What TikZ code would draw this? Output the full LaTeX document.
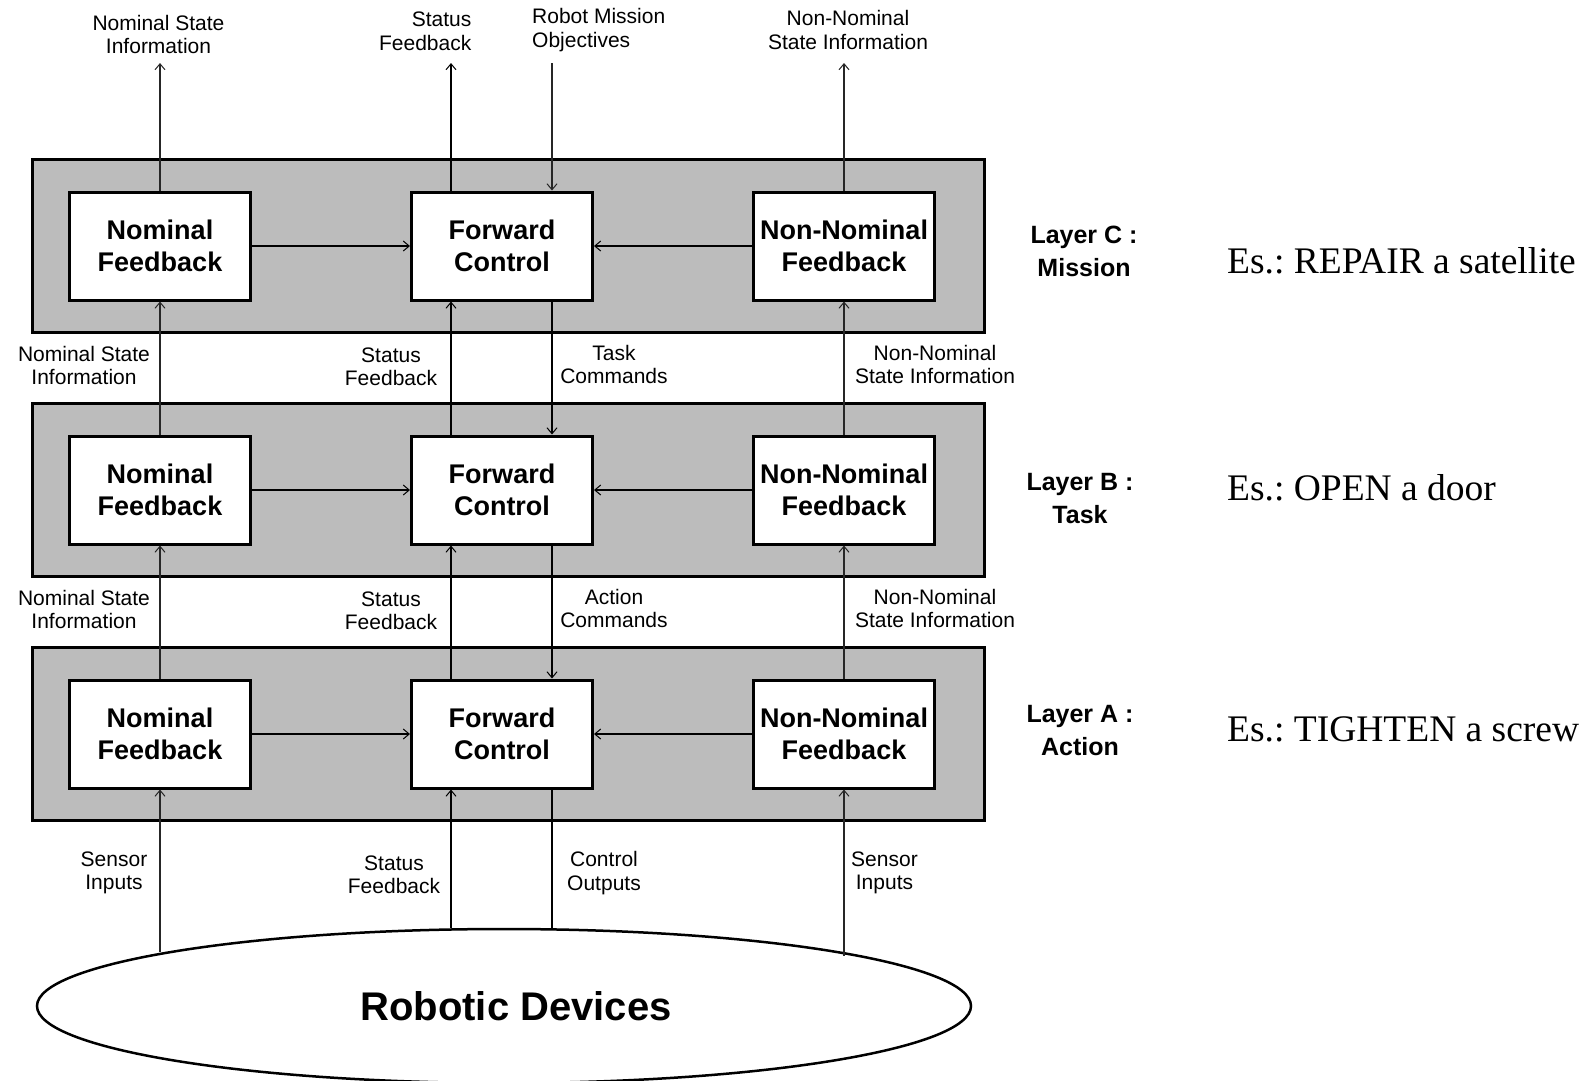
\documentclass[tikz,border=0pt]{standalone}
\usepackage{fontspec}
\setmainfont{Liberation Sans}
\newfontfamily\esfont{Liberation Serif}
\usetikzlibrary{arrows.meta,calc,shapes.geometric}
\definecolor{layergray}{RGB}{188,188,188}
\frenchspacing
\begin{document}
\begin{tikzpicture}[x=1pt,y=-1pt,
  layerbox/.style={draw=black,line width=3pt,fill=layergray,minimum width=952pt,minimum height=173pt,inner sep=0pt},
  blk/.style={draw=black,line width=3pt,fill=white,minimum width=181pt,minimum height=108pt,inner sep=0pt,align=center,font=\fontsize{27}{32.5}\selectfont\bfseries},
  sig/.style={font=\fontsize{21}{23.5}\selectfont,align=center,inner sep=0pt},
  laylbl/.style={font=\fontsize{25}{33}\selectfont\bfseries,align=center,inner sep=0pt},
  eslbl/.style={font=\esfont\fontsize{37.5}{40}\selectfont,anchor=west,inner sep=0pt},
  tip/.style={-{Straight Barb[length=6pt,width=10pt,line width=1pt]}},
  thinln/.style={line width=1.1pt,draw=black!85},
  statln/.style={line width=2.4pt},
  cmdln/.style={line width=1.3pt},
  horln/.style={line width=1.8pt},
]
\useasboundingbox (0,0) rectangle (1583,1080);

% layers and blocks
\foreach \n/\y in {C/246,B/490,A/734} {
  \node[layerbox] (L\n) at (508,\y) {};
  \node[blk] (n\n) at (160,\y) {Nominal\\Feedback};
  \node[blk] (f\n) at (502,\y) {Forward\\Control};
  \node[blk] (x\n) at (844,\y) {Non-Nominal\\Feedback};
  \draw[horln,tip] (n\n.east) -- (f\n.west);
  \draw[horln,tip] (x\n.west) -- (f\n.east);
}

% top outputs / inputs
\coordinate (tN) at (160,63);
\coordinate (tS) at (451,63);
\coordinate (tR) at (552,63);
\coordinate (tX) at (844,63);
\draw[thinln,tip] (nC.north) -- (tN);
\draw[statln,tip] ($(fC.north)+(-51,0)$) -- (tS);
\draw[thinln,tip] (tR) -- ($(fC.north)+(50,0)$);
\draw[thinln,tip] (xC.north) -- (tX);

\node[sig] (lNt) at (158.5,34.5) {Nominal State\\Information};
\node[sig,align=right,anchor=east] (lSt) at (471.5,31.5) {Status\\Feedback};
\node[sig,align=left,anchor=west] (lRt) at (532,30) {Robot Mission\\Objectives};
\node[sig] (lXt) at (848,30) {Non-Nominal\\State Information};

% between layers
\foreach \u/\l in {C/B,B/A} {
  \draw[thinln,tip] (n\l.north) -- (n\u.south);
  \draw[statln,tip] ($(f\l.north)+(-51,0)$) -- ($(f\u.south)+(-51,0)$);
  \draw[cmdln,tip] ($(f\u.south)+(50,0)$) -- ($(f\l.north)+(50,0)$);
  \draw[thinln,tip] (x\l.north) -- (x\u.south);
}
\node[sig] (lNcb) at (84,365.5) {Nominal State\\Information};
\node[sig] (lScb) at (391,367) {Status\\Feedback};
\node[sig] (lTcb) at (614,364.5) {Task\\Commands};
\node[sig] (lXcb) at (935,364.5) {Non-Nominal\\State Information};
\node[sig] (lNba) at (84,609.5) {Nominal State\\Information};
\node[sig] (lSba) at (391,611) {Status\\Feedback};
\node[sig] (lTba) at (614,608.5) {Action\\Commands};
\node[sig] (lXba) at (935,608.5) {Non-Nominal\\State Information};

% robotic devices
\node[ellipse,draw,line width=2.5pt,minimum width=934pt,minimum height=154pt,inner sep=0pt,
      font=\fontsize{40}{44}\selectfont\bfseries] (rd) at (504,1006) {\hspace*{24pt}Robotic Devices};
\draw[thinln,tip] (nA.south |- rd.171.4) -- (nA.south);
\draw[line width=2pt,tip] let \p1=($(fA.south)+(-51,0)$), \p2=(rd.124.7) in (\x1,\y2) -- (\p1);
\draw[line width=1.8pt] let \p1=($(fA.south)+(50,0)$), \p2=(rd.57.9) in (\p1) -- (\x1,\y2);
\draw[thinln,tip] (xA.south |- rd.8.83) -- (xA.south);

\node[sig] (lSi1) at (114,873) {Sensor\\Inputs};
\node[sig] (lSfb) at (394,875) {Status\\Feedback};
\node[sig] (lCo) at (604,873) {Control\\Outputs};
\node[sig] (lSi2) at (884.5,873) {Sensor\\Inputs};

% layer labels
\node[laylbl] (llC) at (1084,251) {Layer C :\\Mission};
\node[laylbl] (llB) at (1080,499) {Layer B :\\Task};
\node[laylbl] (llA) at (1080,730.5) {Layer A :\\Action};

% examples
\node[eslbl] (esC) at (1227,260.5) {Es.: REPAIR a satellite};
\node[eslbl] (esB) at (1227,487.6) {Es.: OPEN a door};
\node[eslbl] (esA) at (1227,729) {Es.: TIGHTEN a screw};
\end{tikzpicture}
\end{document}
